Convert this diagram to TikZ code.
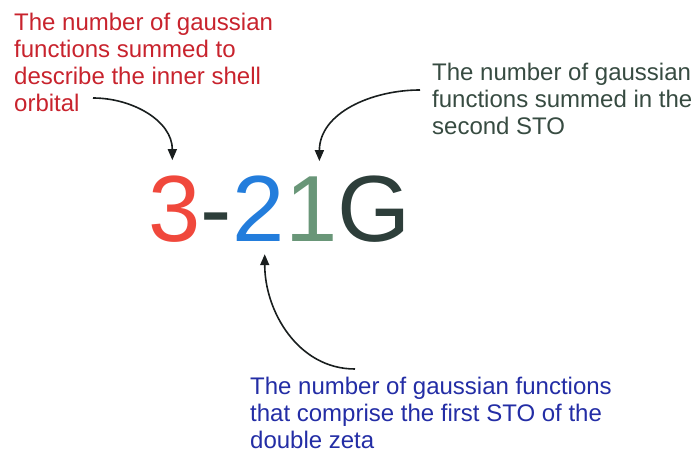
\documentclass[tikz,border=0pt]{standalone}
\usepackage{fontspec}
\setmainfont{Liberation Sans}
\usepackage{xcolor}
\usetikzlibrary{positioning,arrows.meta}

\definecolor{innercol}{RGB}{200,35,45}
\definecolor{secondcol}{RGB}{55,75,65}
\definecolor{firstcol}{RGB}{35,45,165}
\definecolor{threecol}{RGB}{240,72,60}
\definecolor{twocol}{RGB}{35,125,220}
\definecolor{onecol}{RGB}{105,150,120}
\definecolor{gcol}{RGB}{45,62,58}
\definecolor{arrowcol}{RGB}{25,30,30}

\begin{document}
\begin{tikzpicture}[x=1pt, y=1pt, >={Triangle[width=9pt,length=11pt]},
  note/.style={anchor=north west, align=left, inner sep=0pt, font=\fontsize{24}{27}\selectfont},
  digit/.style={inner sep=0pt, font=\fontsize{94}{94}\selectfont},
  pointer/.style={->, line width=1.6pt, draw=arrowcol}]
\useasboundingbox (0,0) rectangle (696,-454);

% the basis set name
\node[digit, anchor=base west, text=threecol] (three) at (148,-242) {3};
\node[digit, base right=0pt of three, text=gcol] (dash) {-};
\node[digit, base right=0pt of dash, text=twocol] (two) {2};
\node[digit, base right=0pt of two, text=onecol] (one) {1};
\node[digit, base right=0pt of one, text=gcol] (G) {G};

% explanations
\node[note, text=innercol] (inner) at (14,-13) {The number of gaussian\\functions summed to\\describe the inner shell\\orbital};
\node[note, text=secondcol] (second) at (432,-63) {The number of gaussian\\functions summed in the\\second STO};
\node[note, text=firstcol] (first) at (250,-377) {The number of gaussian functions\\that comprise the first STO of the\\double zeta};

\coordinate (innerend) at (93,-98);
\coordinate (secondend) at (420,-90);
\coordinate (firstend) at (355,-369);

\draw[pointer] (innerend) to[out=0, in=90] ([xshift=-2pt, yshift=16pt]three.north);
\draw[pointer] (secondend) to[out=180, in=90] ([xshift=8pt, yshift=16pt]one.north);
\draw[pointer] (firstend) to[out=180, in=-90] ([xshift=6pt, yshift=-12pt]two.south);
\end{tikzpicture}
\end{document}
